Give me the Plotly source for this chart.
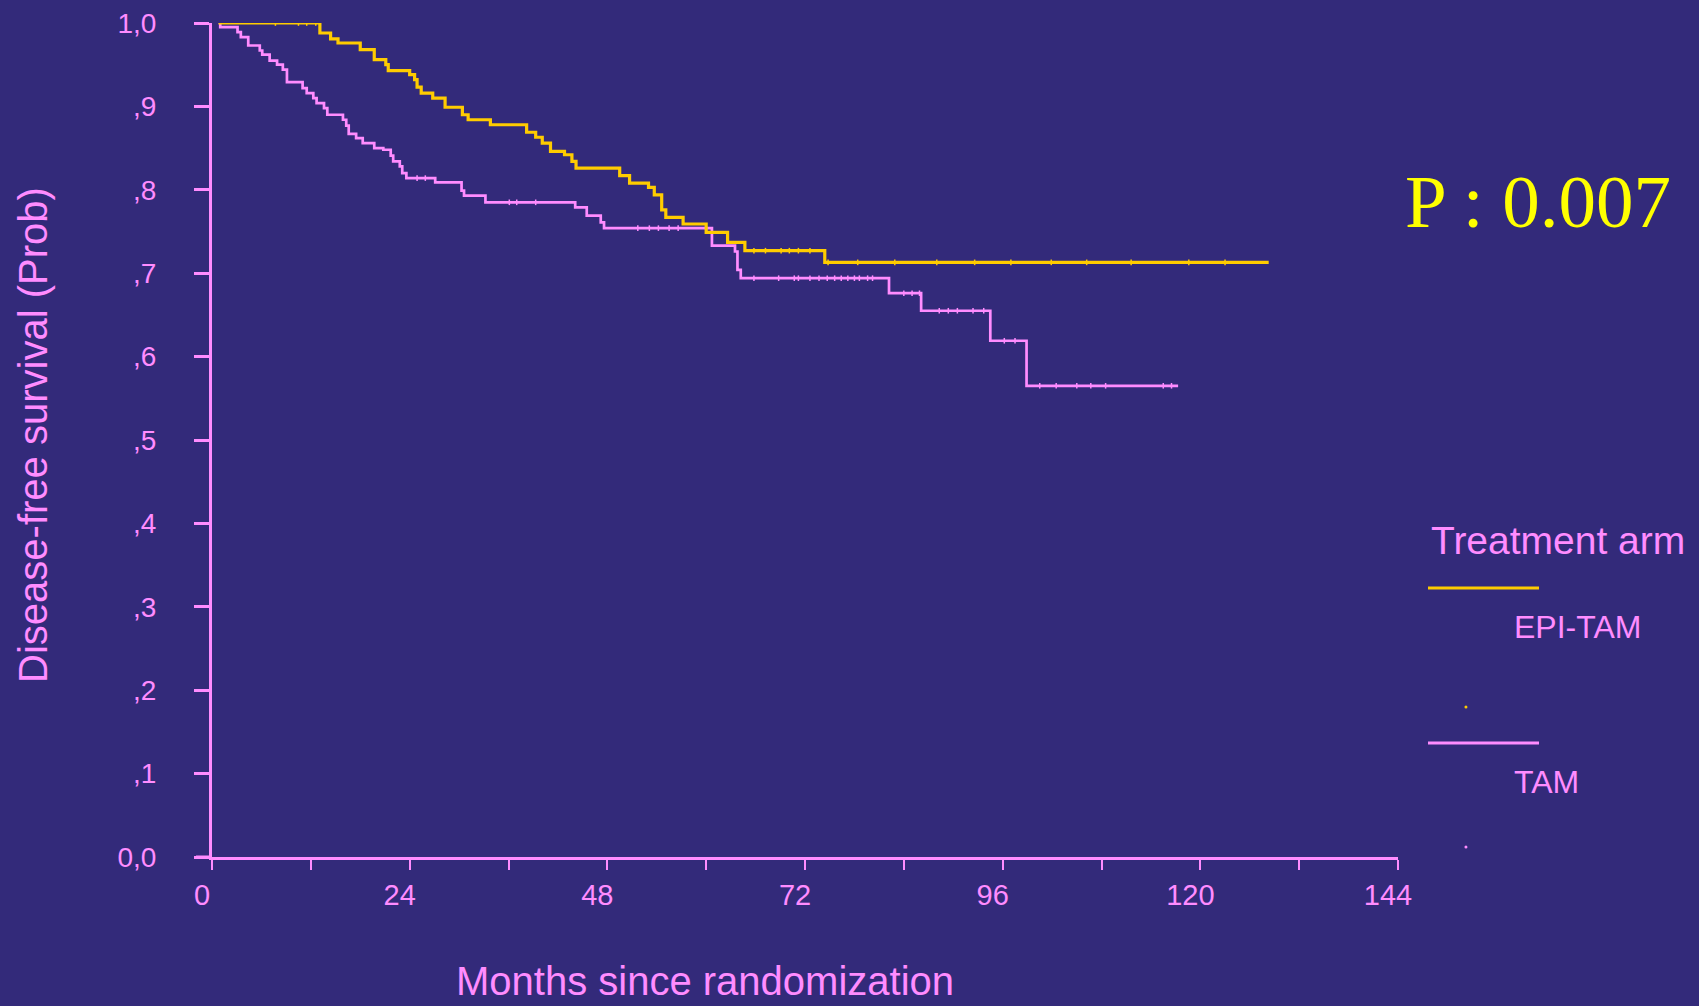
import plotly.graph_objects as go

# ---- data ----
epi_times = [0.8, 13.1, 14.4, 15.3, 18.0, 19.7, 21.1, 21.4, 24.0, 24.6, 24.9, 25.4, 26.8, 28.3,
             30.4, 31.1, 33.8, 38.2, 39.3, 40.1, 41.1, 42.8, 43.7, 44.2, 49.5, 50.7, 53.0,
             53.7, 54.6, 55.1, 57.2, 60.0, 62.6, 64.7, 74.4, 128.3]
epi_surv = [1.0, 0.988, 0.981, 0.976, 0.968, 0.956, 0.950, 0.943, 0.938, 0.932, 0.923, 0.916,
            0.910, 0.899, 0.890, 0.884, 0.878, 0.869, 0.863, 0.856, 0.846, 0.842, 0.834, 0.826,
            0.817, 0.808, 0.803, 0.794, 0.776, 0.767, 0.759, 0.749, 0.737, 0.727, 0.713, 0.713]

tam_times = [0.8, 1.0, 3.1, 3.5, 4.4, 5.8, 6.1, 7.0, 7.9, 8.6, 9.1, 11.0, 11.5, 12.3, 12.7, 13.6,
             14.0, 15.9, 16.3, 16.6, 17.5, 18.3, 19.7, 20.8, 21.7, 22.0, 22.8, 23.1, 23.6, 27.1,
             30.3, 30.6, 33.2, 44.1, 45.5, 47.2, 47.6, 60.7, 63.5, 63.8, 64.2, 82.2, 86.1, 94.5,
             98.9, 117.3]
tam_surv = [1.0, 0.995, 0.989, 0.983, 0.973, 0.967, 0.962, 0.955, 0.950, 0.944, 0.929, 0.922,
            0.916, 0.910, 0.904, 0.898, 0.890, 0.884, 0.877, 0.867, 0.862, 0.856, 0.850, 0.848,
            0.841, 0.834, 0.828, 0.820, 0.814, 0.809, 0.799, 0.793, 0.785, 0.779, 0.769, 0.761,
            0.754, 0.733, 0.726, 0.704, 0.694, 0.676, 0.655, 0.619, 0.565, 0.565]

# censoring marks (months)
epi_censor = [7.7, 10.5, 11.5, 12.6, 65.8, 67.2, 69.1, 70.1, 71.2, 72.6, 74.8, 78.4, 82.9,
              88.0, 92.6, 97.0, 101.9, 106.2, 111.6, 118.6, 123.0]
tam_censor = [24.9, 25.9, 36.1, 37.0, 39.3, 51.7, 53.1, 54.2, 55.5, 56.6, 65.8, 68.8, 70.7,
              71.2, 72.6, 73.7, 74.7, 75.6, 76.4, 77.2, 78.0, 78.6, 79.6, 80.2, 84.0, 85.0,
              85.9, 88.3, 89.4, 90.5, 92.4, 93.7, 96.2, 97.5, 100.5, 102.5, 105.0, 106.7,
              108.5, 115.5, 116.5]

x_tickvals = [0, 12, 24, 36, 48, 60, 72, 84, 96, 108, 120, 132, 144]
x_ticktext = ["0", "", "24", "", "48", "", "72", "", "96", "", "120", "", "144"]
y_tickvals = [0.0, 0.1, 0.2, 0.3, 0.4, 0.5, 0.6, 0.7, 0.8, 0.9, 1.0]
y_ticktext = ["0,0", ",1", ",2", ",3", ",4", ",5", ",6", ",7", ",8", ",9", "1,0"]

arm_names = ["EPI-TAM", "TAM"]
p_text = "P : 0.007"

# ---- style ----
BG = "#332A7A"
PINK = "#FF8CFF"
YELLOW = "#FFCC00"
FONT = "Liberation Sans, Arial, sans-serif"


def surv_at(times, surv, t):
    v = surv[0]
    for ti, si in zip(times, surv):
        if ti <= t:
            v = si
    return v


fig = go.Figure()
fig.add_trace(go.Scatter(x=tam_times, y=tam_surv, mode="lines", line=dict(color=PINK, width=2.7, shape="hv"),
                         name=arm_names[1], showlegend=False))
fig.add_trace(go.Scatter(x=epi_times, y=epi_surv, mode="lines", line=dict(color=YELLOW, width=3.2, shape="hv"),
                         name=arm_names[0], showlegend=False))
fig.add_trace(go.Scatter(x=tam_censor, y=[surv_at(tam_times, tam_surv, t) for t in tam_censor], mode="markers",
                         marker=dict(symbol="line-ns", size=4, line=dict(color=PINK, width=1.5)), showlegend=False))
fig.add_trace(go.Scatter(x=epi_censor, y=[surv_at(epi_times, epi_surv, t) for t in epi_censor], mode="markers",
                         marker=dict(symbol="line-ns", size=4, line=dict(color=YELLOW, width=1.5)), showlegend=False))

fig.update_layout(
    width=1699, height=1006,
    paper_bgcolor=BG, plot_bgcolor=BG,
    margin=dict(l=212, r=301, t=23, b=149, autoexpand=False),
    font=dict(family=FONT, color=PINK),
    showlegend=False,
)
fig.update_xaxes(range=[0, 144], tickvals=x_tickvals, ticktext=x_ticktext, showgrid=False, zeroline=False,
                 showline=True, linecolor=PINK, linewidth=3, ticks="outside", ticklen=10, tickwidth=2,
                 tickcolor=PINK, tickfont=dict(size=29, color=PINK, family=FONT), ticklabelshift=-10,
                 ticklabelstandoff=0, automargin=False)
fig.update_yaxes(range=[0, 1], tickvals=y_tickvals, ticktext=y_ticktext, showgrid=False, zeroline=False,
                 showline=True, linecolor=PINK, linewidth=3, ticks="outside", ticklen=15, tickwidth=3,
                 tickcolor=PINK, tickfont=dict(size=28, color=PINK, family=FONT), ticklabelstandoff=32,
                 automargin=False)

# extend x-axis line to the left under the y tick marks
fig.add_shape(type="line", xref="paper", yref="paper", x0=-16 / 1186, x1=0, y0=0, y1=0,
              line=dict(color=PINK, width=3))

# axis titles
fig.add_annotation(text="Disease-free survival (Prob)", xref="paper", yref="paper", x=-0.151, y=0.506,
                   textangle=-90, showarrow=False, font=dict(size=40, color=PINK, family=FONT),
                   xanchor="center", yanchor="middle")
fig.add_annotation(text="Months since randomization", xref="paper", yref="paper", x=0.4157, y=-0.1775,
                   showarrow=False, font=dict(size=40, color=PINK, family=FONT),
                   xanchor="center", yanchor="bottom")

# p value
fig.add_annotation(text=p_text, xref="paper", yref="paper", x=1.004, y=0.786, showarrow=False,
                   font=dict(size=75, color="#FFFF00", family="Liberation Serif, Times New Roman, serif"),
                   xanchor="left", yanchor="middle")

# legend block
fig.add_annotation(text="Treatment arm", xref="paper", yref="paper", x=1.026, y=0.380, showarrow=False,
                   font=dict(size=39, color=PINK, family=FONT), xanchor="left", yanchor="middle")
for i, (nm, col) in enumerate(zip(arm_names, [YELLOW, PINK])):
    ly = [0.3225, 0.1367][i]
    ty = [0.2758, 0.0899][i]
    dy = [0.1799, 0.012][i]
    fig.add_shape(type="line", xref="paper", yref="paper", x0=1.0253, x1=1.1189, y0=ly, y1=ly,
                  line=dict(color=col, width=3))
    fig.add_annotation(text=nm, xref="paper", yref="paper", x=1.096, y=ty, showarrow=False,
                       font=dict(size=32, color=PINK, family=FONT), xanchor="left", yanchor="middle")
    fig.add_shape(type="circle", xref="paper", yref="paper", x0=1.0573 - 1.5 / 1186, x1=1.0573 + 1.5 / 1186,
                  y0=dy - 1.5 / 834, y1=dy + 1.5 / 834, line=dict(color=col, width=0), fillcolor=col)

fig.write_html("out.html", config={"displayModeBar": False},
               post_script="document.body.style.margin='0';document.body.style.padding='0';"
                           "document.body.style.overflow='hidden';"
                           "document.body.style.background='" + BG + "';")
